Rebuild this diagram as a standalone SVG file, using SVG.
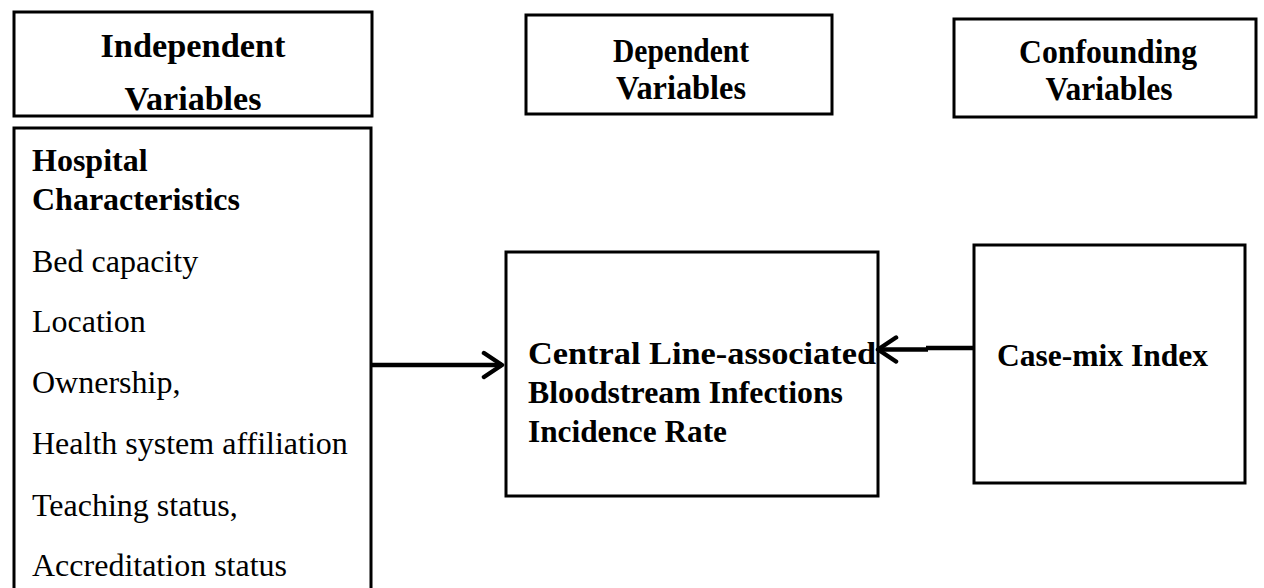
<svg xmlns="http://www.w3.org/2000/svg" width="1264" height="588" viewBox="0 0 1264 588">
<defs>
<style>
.box{fill:#fff;stroke:#000;stroke-width:3}
.hdr{font-family:"Liberation Serif","Times New Roman",serif;font-weight:bold;fill:#000;text-anchor:middle}
.bd{font-family:"Liberation Serif","Times New Roman",serif;font-weight:bold;font-size:32px;fill:#000}
.rg{font-family:"Liberation Serif","Times New Roman",serif;font-size:32px;fill:#000}
.cn{fill:none;stroke:#000;stroke-width:4.5}
</style>
<marker id="chev" viewBox="0 0 24 30" refX="21" refY="15" markerWidth="24" markerHeight="30" markerUnits="userSpaceOnUse" orient="auto">
<path d="M3,3 L21,15 L3,27" fill="none" stroke="#000" stroke-width="4.5" stroke-linecap="round" stroke-linejoin="round"/>
</marker>
</defs>
<rect width="1264" height="588" fill="#fff"/>
<g id="independent-header">
<rect class="box" x="14" y="12" width="358" height="104"/>
<text class="hdr" x="193" y="57" font-size="33" textLength="185" lengthAdjust="spacingAndGlyphs">Independent</text>
<text class="hdr" x="193" y="110" font-size="33" textLength="137" lengthAdjust="spacingAndGlyphs">Variables</text>
</g>
<g id="dependent-header">
<rect class="box" x="526" y="15" width="306" height="99"/>
<text class="hdr" x="681" y="62" font-size="33" textLength="136" lengthAdjust="spacingAndGlyphs">Dependent</text>
<text class="hdr" x="681" y="99" font-size="33" textLength="130" lengthAdjust="spacingAndGlyphs">Variables</text>
</g>
<g id="confounding-header">
<rect class="box" x="954" y="19" width="302" height="98"/>
<text class="hdr" x="1108" y="63" font-size="33" textLength="178" lengthAdjust="spacingAndGlyphs">Confounding</text>
<text class="hdr" x="1109" y="100" font-size="33" textLength="127" lengthAdjust="spacingAndGlyphs">Variables</text>
</g>
<g id="hospital-characteristics">
<path class="box" d="M14,600 V128 H371 V600"/>
<text class="bd" x="32" y="171">Hospital</text>
<text class="bd" x="32" y="210">Characteristics</text>
<text class="rg" x="32" y="272">Bed capacity</text>
<text class="rg" x="32" y="332">Location</text>
<text class="rg" x="32" y="393">Ownership,</text>
<text class="rg" x="32" y="454">Health system affiliation</text>
<text class="rg" x="32" y="516">Teaching status,</text>
<text class="rg" x="32" y="576">Accreditation status</text>
</g>
<g id="clabsi-rate">
<rect class="box" x="506" y="252" width="372" height="244" stroke-width="2.5"/>
<text class="bd" x="528" y="364" font-size="31" textLength="348" lengthAdjust="spacingAndGlyphs">Central Line-associated</text>
<text class="bd" x="528" y="403" font-size="31" textLength="315" lengthAdjust="spacingAndGlyphs">Bloodstream Infections</text>
<text class="bd" x="528" y="442" font-size="31" textLength="199" lengthAdjust="spacingAndGlyphs">Incidence Rate</text>
</g>
<g id="case-mix-index">
<rect class="box" x="974" y="245" width="271" height="238" stroke-width="2.5"/>
<text class="bd" x="997" y="366" font-size="31" textLength="211" lengthAdjust="spacingAndGlyphs">Case-mix Index</text>
</g>
<g id="connectors">
<line class="cn" x1="372" y1="365" x2="502" y2="365" marker-end="url(#chev)"/>
<path class="cn" d="M975,348 H926" stroke-width="5"/>
<line class="cn" x1="928" y1="349.5" x2="878" y2="349.5" marker-end="url(#chev)"/>
</g>
</svg>
